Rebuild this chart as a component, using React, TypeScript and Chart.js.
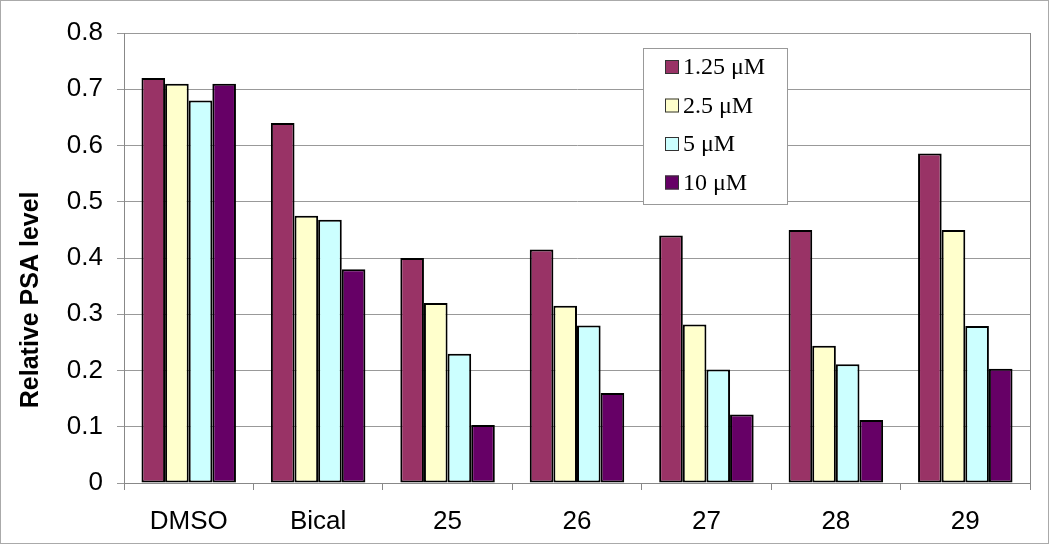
import React, { useEffect, useRef } from "react";
import { Chart, registerables } from "chart.js";

Chart.register(...registerables);

const categories = ["DMSO", "Bical", "25", "26", "27", "28", "29"];
const seriesLabels = ["1.25 \u03bcM", "2.5 \u03bcM", "5 \u03bcM", "10 \u03bcM"];
const s125 = [0.72, 0.64, 0.4, 0.415, 0.44, 0.45, 0.586];
const s25 = [0.71, 0.475, 0.32, 0.315, 0.282, 0.244, 0.45];
const s5 = [0.68, 0.468, 0.23, 0.28, 0.202, 0.211, 0.279];
const s10 = [0.71, 0.38, 0.103, 0.16, 0.122, 0.112, 0.203];
const colors = ["#993366", "#FFFFCC", "#CCFFFF", "#660066"];
const yTicks = [0, 0.1, 0.2, 0.3, 0.4, 0.5, 0.6, 0.7, 0.8];
const yTitle = "Relative PSA level";

const frameAndLegend = {
  id: "frameAndLegend",
  afterDraw(chart: any) {
    const ctx = chart.ctx;
    const a = chart.chartArea;
    ctx.save();
    ctx.strokeStyle = "#888888";
    ctx.lineWidth = 1;
    ctx.beginPath();
    ctx.moveTo(Math.round(a.right) + 0.5, a.top);
    ctx.lineTo(Math.round(a.right) + 0.5, a.bottom);
    ctx.stroke();

    // y-axis title (placed like the original, slightly below centre)
    ctx.save();
    ctx.translate(31, a.top + (a.bottom - a.top) * 0.593);
    ctx.rotate(-Math.PI / 2);
    ctx.font = "bold 25px 'Liberation Sans', Arial, sans-serif";
    ctx.fillStyle = "#000000";
    ctx.textAlign = "center";
    ctx.textBaseline = "middle";
    ctx.fillText(yTitle, 0, 0);
    ctx.restore();

    const bx = a.left + 519;
    const by = a.top + 15;
    const bw = 144;
    const bh = 156;
    ctx.fillStyle = "#ffffff";
    ctx.fillRect(bx, by, bw, bh);
    ctx.strokeStyle = "#999999";
    ctx.strokeRect(bx + 0.5, by + 0.5, bw, bh);
    ctx.font = "24px 'Liberation Serif', 'Times New Roman', serif";
    ctx.textBaseline = "middle";
    ctx.textAlign = "left";
    chart.data.datasets.forEach((ds: any, i: number) => {
      const cy = by + 19 + i * 38.5;
      const sx = bx + 22;
      ctx.fillStyle = ds.backgroundColor;
      ctx.fillRect(sx, cy - 7, 14, 14);
      ctx.strokeStyle = "#333333";
      ctx.strokeRect(sx + 0.5, cy - 6.5, 13, 13);
      ctx.fillStyle = "#000000";
      ctx.fillText(ds.label, sx + 18, cy + 1);
    });
    ctx.restore();
  },
};

export default function App() {
  const ref = useRef<HTMLCanvasElement>(null);
  useEffect(() => {
    document.body.style.margin = "0";
    const datasets = [s125, s25, s5, s10].map((d, i) => ({
      label: seriesLabels[i],
      data: d,
      backgroundColor: colors[i],
      borderColor: "#000000",
      borderWidth: 2,
      borderSkipped: false as any,
      categoryPercentage: 0.73,
      barPercentage: 1,
    }));
    const chart = new Chart(ref.current!, {
      type: "bar",
      data: { labels: categories, datasets },
      plugins: [frameAndLegend],
      options: {
        animation: false,
        responsive: false,
        devicePixelRatio: 1,
        layout: { padding: { left: 0, top: 33, right: 20, bottom: 0 } },
        plugins: { legend: { display: false }, tooltip: { enabled: false } },
        scales: {
          x: {
            offset: true,
            grid: {
              offset: true,
              drawOnChartArea: false,
              drawTicks: true,
              tickLength: 7,
              color: "#888888",
            },
            border: { display: true, color: "#888888", width: 1 },
            ticks: {
              color: "#000000",
              font: { family: "'Liberation Sans', Arial, sans-serif", size: 26 },
              padding: 16,
              maxRotation: 0,
            },
            afterFit(scale: any) {
              scale.height = 63;
            },
          },
          y: {
            min: 0,
            max: 0.8,
            afterBuildTicks(scale: any) {
              scale.ticks = yTicks.map((v) => ({ value: v }));
            },
            grid: {
              color: "#999999",
              lineWidth: 1,
              drawTicks: true,
              tickLength: 7,
            },
            border: { display: true, color: "#888888", width: 1 },
            ticks: {
              color: "#000000",
              font: { family: "'Liberation Sans', Arial, sans-serif", size: 26 },
              padding: 14,
              callback: (v: any) => String(Math.round(Number(v) * 10) / 10),
            },
            title: { display: false },
            afterFit(scale: any) {
              scale.width = 124;
            },
          },
        },
      } as any,
    });
    return () => chart.destroy();
  }, []);
  return (
    <div
      style={{
        position: "absolute",
        left: 0,
        top: 0,
        width: 1050,
        height: 546,
        background: "#ffffff",
      }}
    >
      <canvas ref={ref} width={1050} height={546} style={{ display: "block" }} />
      <div
        style={{
          position: "absolute",
          left: 0,
          top: 0,
          width: 1049,
          height: 544,
          border: "1px solid #aaaaaa",
          boxSizing: "border-box",
          pointerEvents: "none",
        }}
      />
    </div>
  );
}
